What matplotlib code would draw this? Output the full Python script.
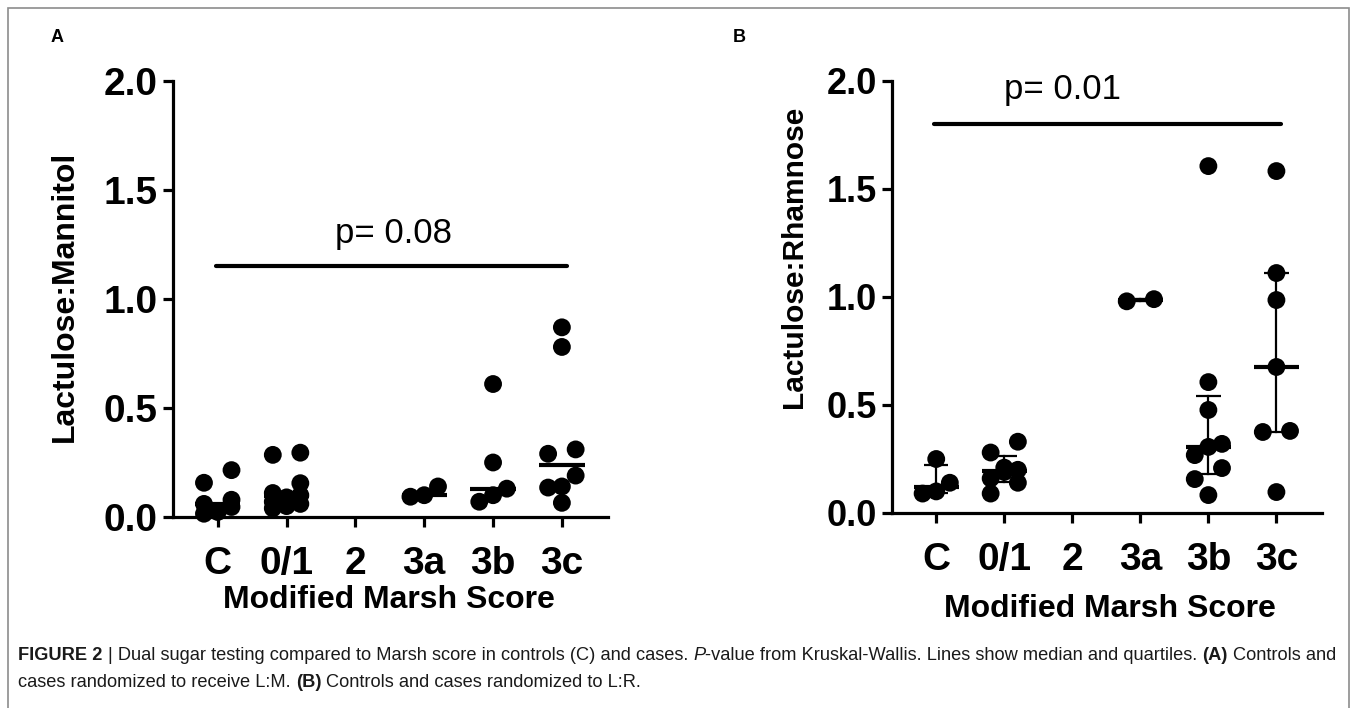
import numpy as np
import matplotlib
matplotlib.use('Agg')
import matplotlib.pyplot as plt
from matplotlib import font_manager
from matplotlib.patches import Rectangle

# ---------------- data ----------------
categories = ['C', '0/1', '2', '3a', '3b', '3c']

lm_C  = [0.215, 0.157, 0.079, 0.060, 0.046, 0.023, 0.015]
lm_01 = [0.295, 0.285, 0.155, 0.110, 0.100, 0.090, 0.070, 0.060, 0.050, 0.040]
lm_2  = []
lm_3a = [0.140, 0.100, 0.093]
lm_3b = [0.610, 0.250, 0.130, 0.100, 0.070]
lm_3c = [0.870, 0.780, 0.310, 0.290, 0.190, 0.140, 0.135, 0.065]

lr_C  = [0.250, 0.140, 0.100, 0.090]
lr_01 = [0.330, 0.280, 0.210, 0.200, 0.190, 0.160, 0.140, 0.090]
lr_2  = []
lr_3a = [0.990, 0.980]
lr_3b = [1.606, 0.606, 0.477, 0.320, 0.306, 0.268, 0.208, 0.157, 0.083]
lr_3c = [1.583, 1.111, 0.986, 0.676, 0.380, 0.375, 0.097]

p_text_A = 'p= 0.08'
p_text_B = 'p= 0.01'
sig_y_A = 1.15
sig_y_B = 1.80

yticks = [0.0, 0.5, 1.0, 1.5, 2.0]
ytick_labels = ['0.0', '0.5', '1.0', '1.5', '2.0']

# ---------------- style ----------------
FONT = 'Liberation Sans'
plt.rcParams['font.family'] = [FONT, 'DejaVu Sans']

W, H = 1357, 708
fig = plt.figure(figsize=(W / 100, H / 100), dpi=100)


def px_axes(left, right, top, bottom):
    return fig.add_axes([left / W, 1 - bottom / H, (right - left) / W, (bottom - top) / H])


def swarm(vals, col_w=0.2, thr=0.07, max_row=3):
    """Prism-like dot arrangement: nearby values share a row, centred on the category."""
    vals = np.asarray(vals, dtype=float)
    order = np.argsort(vals)
    rows = []
    for i in order:
        if rows and len(rows[-1]) < max_row and vals[i] - vals[rows[-1][0]] < thr:
            rows[-1].append(i)
        else:
            rows.append([i])
    offs = np.zeros(len(vals))
    pattern = {1: [0], 2: [-1, 1], 3: [-1, 0, 1]}
    for row in rows:
        for j, i in enumerate(row):
            offs[i] = pattern[len(row)][j] * col_w
    return offs


def style_axes(ax, ysize):
    for s in ('top', 'right'):
        ax.spines[s].set_visible(False)
    for s in ('left', 'bottom'):
        ax.spines[s].set_linewidth(2.3)
    ax.set_xlim(-0.65, 5.67)
    ax.set_ylim(0, 2.0)
    ax.set_yticks(yticks)
    ax.set_yticklabels(ytick_labels)
    ax.set_xticks(range(len(categories)))
    ax.set_xticklabels(categories)
    ax.tick_params(axis='both', length=7, width=2.3)
    ax.tick_params(axis='x', pad=14, labelsize=28)
    ax.tick_params(axis='y', pad=4, labelsize=ysize)
    for lab in ax.get_xticklabels() + ax.get_yticklabels():
        lab.set_fontweight('bold')


def draw_groups(ax, groups, quartiles):
    for i, vals in enumerate(groups):
        if len(vals) == 0:
            continue
        offs = swarm(vals)
        ax.scatter(i + offs, vals, s=165, color='black', edgecolors='none',
                   zorder=3, clip_on=False)
        q1, med, q3 = np.percentile(vals, [25, 50, 75], method='weibull')
        ax.plot([i - 0.33, i + 0.33], [med, med], color='black', lw=3.0,
                solid_capstyle='butt', zorder=4)
        if quartiles:
            ax.plot([i, i], [q1, q3], color='black', lw=1.6, zorder=4)
            for q in (q1, q3):
                ax.plot([i - 0.18, i + 0.18], [q, q], color='black', lw=1.6,
                        solid_capstyle='butt', zorder=4)


# Panel A
axA = px_axes(173, 608, 81, 517)
style_axes(axA, 28)
draw_groups(axA, [lm_C, lm_01, lm_2, lm_3a, lm_3b, lm_3c], quartiles=False)
axA.plot([-0.02, 5.08], [sig_y_A, sig_y_A], color='black', lw=3.0,
         solid_capstyle='round', clip_on=False)
axA.text(2.55, sig_y_A + 0.075, p_text_A, fontsize=25, ha='center', va='bottom')
axA.set_ylabel('Lactulose:Mannitol', fontsize=23, fontweight='bold')
axA.yaxis.set_label_coords(-0.214, 0.505)
axA.set_xlabel('Modified Marsh Score', fontsize=23, fontweight='bold')
axA.xaxis.set_label_coords(0.497, -0.156)

# Panel B
axB = px_axes(892, 1322, 81, 513)
style_axes(axB, 26)
draw_groups(axB, [lr_C, lr_01, lr_2, lr_3a, lr_3b, lr_3c], quartiles=True)
axB.plot([-0.04, 5.07], [sig_y_B, sig_y_B], color='black', lw=3.0,
         solid_capstyle='round', clip_on=False)
axB.text(1.86, sig_y_B + 0.085, p_text_B, fontsize=25, ha='center', va='bottom')
axB.set_ylabel('Lactulose:Rhamnose', fontsize=21.5, fontweight='bold')
axB.yaxis.set_label_coords(-0.195, 0.593)
axB.set_xlabel('Modified Marsh Score', fontsize=23, fontweight='bold')
axB.xaxis.set_label_coords(0.507, -0.1875)

# Panel letters
fig.text(57 / W, 1 - 37 / H, 'A', fontsize=13, fontweight='bold', ha='center', va='center')
fig.text(739 / W, 1 - 37 / H, 'B', fontsize=13, fontweight='bold', ha='center', va='center')

# Border
fig.add_artist(Rectangle((8 / W, -0.02), (1349 - 8) / W, 1 - 8 / H + 0.02,
                         transform=fig.transFigure, fill=False,
                         edgecolor='#8c8c8c', lw=1.2))

# ---------------- caption ----------------
try:
    font_manager.findfont('Liberation Sans Narrow', fallback_to_default=False)
    CAP_FONT = ['Liberation Sans Narrow', 'Liberation Sans']
except Exception:
    CAP_FONT = ['Liberation Sans']

line1 = [
    ('FIGURE 2', 'bold', 'normal', False),
    ('| Dual sugar testing compared to Marsh score in controls (C) and cases.', 'normal', 'normal', True),
    ('P', 'normal', 'italic', True),
    ('-value from Kruskal-Wallis. Lines show median and quartiles.', 'normal', 'normal', False),
    ('(A)', 'bold', 'normal', True),
    ('Controls and', 'normal', 'normal', True),
]
line2 = [
    ('cases randomized to receive L:M.', 'normal', 'normal', False),
    ('(B)', 'bold', 'normal', True),
    ('Controls and cases randomized to L:R.', 'normal', 'normal', True),
]

renderer = fig.canvas.get_renderer()


def text_width(s, size, weight='normal', style='normal'):
    t = fig.text(0, 0, s, fontsize=size, fontweight=weight, fontstyle=style, family=CAP_FONT)
    w = t.get_window_extent(renderer=renderer).width
    t.remove()
    return w


def draw_runs(runs, x_px, base_px, size, draw=True):
    sp = text_width('a a', size) - text_width('aa', size)
    x = x_px
    for txt, wt, st, space in runs:
        if space:
            x += sp
        t = fig.text(x / W, 1 - base_px / H, txt, fontsize=size, fontweight=wt,
                     fontstyle=st, family=CAP_FONT, va='baseline', ha='left',
                     color='#1a1a1a')
        w = t.get_window_extent(renderer=renderer).width
        if not draw:
            t.remove()
        x += w
    return x - x_px


base_size = 13.0
w1 = draw_runs(line1, 18, 660, base_size, draw=False)
cap_size = base_size * (1335 - 18) / w1
draw_runs(line1, 18, 660, cap_size)
draw_runs(line2, 18, 687, cap_size)

fig.savefig('out.png', dpi=100)
